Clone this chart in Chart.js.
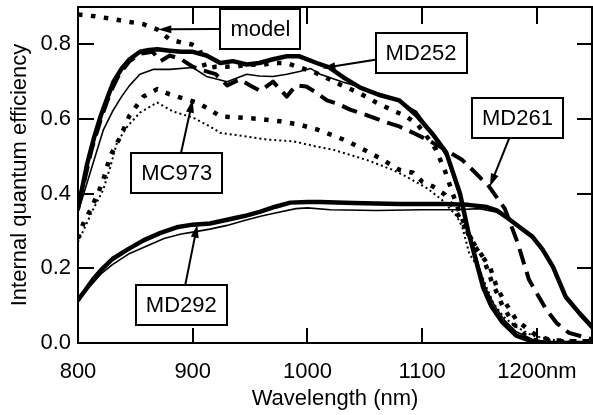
<!DOCTYPE html>
<html>
<head>
<meta charset="utf-8">
<script src="https://cdn.jsdelivr.net/npm/chart.js@4.4.0/dist/chart.umd.min.js"></script>
<style>
  html, body { margin: 0; padding: 0; background: #fff; }
  #wrap { width: 593px; height: 415px; }
</style>
</head>
<body>
<div id="wrap"><canvas id="iqe" width="593" height="415"></canvas></div>
<script>
'use strict';

// --- axis ticks ---
const xTicks = [800, 900, 1000, 1100, 1200];
const xTickLabels = ['800', '900', '1000', '1100', '1200nm'];
const yTicks = [0, 0.2, 0.4, 0.6, 0.8];
const yTickLabels = ['0.0', '0.2', '0.4', '0.6', '0.8'];

// --- model (square dots) ---
const modelWl  = [800, 815, 830, 845, 857, 869, 880, 890, 899, 906, 911, 920, 930, 940, 950, 960, 970, 982, 993, 1004, 1014, 1030, 1045, 1060, 1073, 1086, 1096, 1106, 1112, 1120, 1130, 1141, 1153, 1160, 1170, 1180, 1190, 1200, 1220, 1248];
const modelIqe = [0.88, 0.875, 0.868, 0.86, 0.854, 0.84, 0.813, 0.805, 0.80, 0.787, 0.735, 0.74, 0.74, 0.742, 0.745, 0.745, 0.75, 0.75, 0.738, 0.728, 0.714, 0.69, 0.67, 0.644, 0.625, 0.607, 0.585, 0.545, 0.518, 0.46, 0.37, 0.285, 0.23, 0.17, 0.10, 0.05, 0.02, 0.005, 0.005, 0.005];

// --- MD252 (thick + thin solid) ---
const md252aWl  = [800, 804, 808, 814, 820, 826, 831, 838, 845, 854, 862, 869, 880, 890, 900, 912, 924, 935, 947, 958, 970, 982, 993, 1008, 1019, 1032, 1046, 1062, 1080, 1095, 1109, 1121, 1133, 1140, 1147, 1153, 1160, 1170, 1182, 1196, 1210, 1248];
const md252aIqe = [0.36, 0.42, 0.48, 0.55, 0.61, 0.66, 0.70, 0.735, 0.76, 0.78, 0.785, 0.787, 0.783, 0.78, 0.78, 0.77, 0.75, 0.755, 0.746, 0.75, 0.76, 0.768, 0.768, 0.75, 0.738, 0.71, 0.684, 0.665, 0.65, 0.61, 0.56, 0.51, 0.40, 0.30, 0.22, 0.15, 0.10, 0.055, 0.02, 0.004, 0, 0];
const md252bWl  = [800, 808, 815, 822, 830, 838, 845, 854, 866, 880, 900, 912, 930, 947, 958, 970, 982, 993, 1003, 1011, 1030, 1052, 1075, 1095, 1109, 1121, 1133, 1140, 1147, 1155, 1163, 1172, 1182, 1196, 1215, 1248];
const md252bIqe = [0.35, 0.43, 0.50, 0.57, 0.62, 0.66, 0.69, 0.72, 0.733, 0.733, 0.738, 0.714, 0.70, 0.72, 0.715, 0.714, 0.72, 0.727, 0.735, 0.72, 0.70, 0.68, 0.655, 0.62, 0.56, 0.50, 0.39, 0.30, 0.23, 0.15, 0.10, 0.06, 0.03, 0.01, 0, 0];

// --- MD261 (thick dashes) ---
const md261Wl  = [800, 806, 812, 820, 828, 836, 845, 855, 865, 872, 880, 890, 900, 909, 920, 930, 941, 950, 959, 970, 982, 990, 999, 1008, 1017, 1027, 1037, 1052, 1066, 1080, 1092, 1104, 1116, 1127, 1135, 1145, 1158, 1165, 1172, 1183, 1193, 1208, 1217, 1228, 1248];
const md261Iqe = [0.37, 0.44, 0.52, 0.60, 0.67, 0.72, 0.755, 0.775, 0.78, 0.755, 0.77, 0.76, 0.74, 0.73, 0.72, 0.69, 0.706, 0.69, 0.675, 0.70, 0.66, 0.69, 0.687, 0.67, 0.65, 0.64, 0.625, 0.61, 0.594, 0.58, 0.563, 0.545, 0.525, 0.505, 0.49, 0.46, 0.42, 0.39, 0.36, 0.27, 0.17, 0.09, 0.054, 0.027, 0.01];

// --- MC973 (square dots + thin dots) ---
const mc973aWl  = [800, 802, 806, 811, 818, 822, 828, 837, 845, 857, 869, 880, 895, 904, 915, 924, 941, 959, 976, 993, 1008, 1025, 1037, 1054, 1066, 1080, 1092, 1100, 1109, 1120, 1130, 1141, 1146, 1159, 1165, 1171, 1182, 1196, 1211, 1230, 1248];
const mc973aIqe = [0.28, 0.30, 0.33, 0.357, 0.405, 0.437, 0.50, 0.553, 0.61, 0.66, 0.68, 0.666, 0.652, 0.644, 0.625, 0.607, 0.604, 0.60, 0.594, 0.585, 0.572, 0.553, 0.537, 0.51, 0.49, 0.464, 0.456, 0.432, 0.42, 0.397, 0.35, 0.29, 0.258, 0.204, 0.15, 0.115, 0.062, 0.027, 0.008, 0.005, 0.005];
const mc973bWl  = [800, 806, 813, 822, 828, 834, 843, 854, 869, 883, 900, 915, 924, 947, 965, 988, 1008, 1022, 1052, 1074, 1086, 1104, 1117, 1130, 1135, 1141, 1150, 1156, 1162, 1171, 1182, 1196, 1220, 1248];
const mc973bIqe = [0.27, 0.31, 0.357, 0.41, 0.47, 0.537, 0.58, 0.617, 0.644, 0.62, 0.604, 0.58, 0.563, 0.553, 0.545, 0.54, 0.526, 0.518, 0.49, 0.464, 0.446, 0.415, 0.384, 0.34, 0.31, 0.24, 0.196, 0.15, 0.107, 0.07, 0.043, 0.02, 0.005, 0];

// --- MD292 (thick + thin solid) ---
const md292aWl  = [800, 806, 813, 820, 830, 843, 857, 872, 886, 900, 915, 930, 945, 959, 972, 985, 1000, 1011, 1040, 1080, 1120, 1140, 1155, 1165, 1173, 1185, 1196, 1205, 1214, 1225, 1237, 1248];
const md292aIqe = [0.115, 0.14, 0.17, 0.195, 0.225, 0.25, 0.275, 0.295, 0.31, 0.317, 0.32, 0.33, 0.34, 0.352, 0.365, 0.376, 0.378, 0.378, 0.375, 0.372, 0.372, 0.37, 0.365, 0.355, 0.338, 0.31, 0.285, 0.25, 0.204, 0.124, 0.08, 0.043];
const md292bWl  = [800, 810, 820, 830, 845, 860, 875, 890, 900, 915, 930, 945, 960, 975, 990, 1000, 1020, 1060, 1100, 1130, 1150, 1165, 1175];
const md292bIqe = [0.115, 0.15, 0.185, 0.21, 0.24, 0.26, 0.28, 0.292, 0.297, 0.305, 0.315, 0.328, 0.34, 0.35, 0.36, 0.362, 0.357, 0.355, 0.357, 0.357, 0.36, 0.35, 0.335];

const FONT = "'Liberation Sans', Arial, Helvetica, sans-serif";

function pts(xs, ys) {
  return xs.map((x, i) => ({ x: x, y: ys[i] }));
}

function series(label, xs, ys, width, dash) {
  return {
    label: label,
    data: pts(xs, ys),
    borderColor: '#000',
    borderWidth: width,
    borderDash: dash || [],
    borderCapStyle: dash ? 'butt' : 'round',
    borderJoinStyle: 'round',
    pointRadius: 0,
    fill: false,
    tension: 0
  };
}

// --- boxed labels with arrows (data coordinates) ---
const callouts = [
  { text: 'model', x: 959, y: 0.842, tipX: 870, tipY: 0.840 },
  { text: 'MD252', x: 1099, y: 0.778, tipX: 1013, tipY: 0.736 },
  { text: 'MD261', x: 1183, y: 0.604, tipX: 1159, tipY: 0.419 },
  { text: 'MC973', x: 886, y: 0.456, tipX: 900, tipY: 0.652 },
  { text: 'MD292', x: 890, y: 0.102, tipX: 904, tipY: 0.317 }
];

const framePlugin = {
  id: 'frame',
  afterDatasetsDraw(chart) {
    const { ctx, chartArea: a, scales: { x, y } } = chart;
    ctx.save();
    ctx.strokeStyle = '#000';
    ctx.lineWidth = 2;
    ctx.strokeRect(a.left, a.top, a.right - a.left, a.bottom - a.top);
    ctx.beginPath();
    xTicks.forEach(v => {
      const px = Math.round(x.getPixelForValue(v));
      if (px <= a.left + 1) return;
      ctx.moveTo(px, a.bottom); ctx.lineTo(px, a.bottom - 15);
      ctx.moveTo(px, a.top); ctx.lineTo(px, a.top + 17);
    });
    yTicks.forEach(v => {
      const py = Math.round(y.getPixelForValue(v));
      if (py >= a.bottom - 1) return;
      ctx.moveTo(a.left, py); ctx.lineTo(a.left + 16, py);
      ctx.moveTo(a.right, py); ctx.lineTo(a.right - 15, py);
    });
    ctx.stroke();
    ctx.restore();
  },
  afterDraw(chart) {
    const { ctx, scales: { x, y } } = chart;
    ctx.save();
    ctx.font = '22px ' + FONT;
    ctx.textAlign = 'center';
    ctx.textBaseline = 'middle';
    callouts.forEach(c => {
      const cx = x.getPixelForValue(c.x), cy = y.getPixelForValue(c.y);
      const tx = x.getPixelForValue(c.tipX), ty = y.getPixelForValue(c.tipY);
      const ang = Math.atan2(ty - cy, tx - cx);
      const head = 13, half = 4;
      // shaft
      ctx.strokeStyle = '#000';
      ctx.lineWidth = 2;
      ctx.beginPath();
      ctx.moveTo(cx, cy);
      ctx.lineTo(tx - Math.cos(ang) * head * 0.8, ty - Math.sin(ang) * head * 0.8);
      ctx.stroke();
      // head
      ctx.fillStyle = '#000';
      ctx.beginPath();
      ctx.moveTo(tx, ty);
      ctx.lineTo(tx - Math.cos(ang) * head - Math.sin(ang) * half, ty - Math.sin(ang) * head + Math.cos(ang) * half);
      ctx.lineTo(tx - Math.cos(ang) * head + Math.sin(ang) * half, ty - Math.sin(ang) * head - Math.cos(ang) * half);
      ctx.closePath();
      ctx.fill();
      // box
      const w = Math.round(ctx.measureText(c.text).width + 20), h = 40;
      const bx = Math.round(cx - w / 2), by = Math.round(cy - h / 2);
      ctx.fillStyle = '#fff';
      ctx.fillRect(bx, by, w, h);
      ctx.strokeRect(bx, by, w, h);
      ctx.fillStyle = '#000';
      ctx.fillText(c.text, cx, cy + 1);
    });
    ctx.restore();
  }
};

Chart.defaults.font.family = FONT;
Chart.defaults.font.size = 22;
Chart.defaults.color = '#000';

new Chart(document.getElementById('iqe').getContext('2d'), {
  type: 'line',
  data: {
    datasets: [
      series('MD292 thin', md292bWl, md292bIqe, 1.6),
      series('MD292', md292aWl, md292aIqe, 4.5),
      series('MC973 thin', mc973bWl, mc973bIqe, 2, [2, 3]),
      series('MC973', mc973aWl, mc973aIqe, 4.5, [4.5, 8.5]),
      series('MD261', md261Wl, md261Iqe, 4, [16, 8]),
      series('MD252 thin', md252bWl, md252bIqe, 1.6),
      series('MD252', md252aWl, md252aIqe, 4.5),
      series('model', modelWl, modelIqe, 4.5, [4.5, 8.5])
    ]
  },
  options: {
    responsive: false,
    devicePixelRatio: 1,
    animation: false,
    layout: { padding: { top: 7, right: 1, left: 0, bottom: 0 } },
    plugins: { legend: { display: false }, tooltip: { enabled: false } },
    scales: {
      x: {
        type: 'linear', min: 800, max: 1248,
        grid: { display: false, drawTicks: false },
        border: { display: false },
        afterBuildTicks: s => { s.ticks = xTicks.map(v => ({ value: v })); },
        afterFit: s => { s.height = 72; },
        ticks: { padding: 16, maxRotation: 0, autoSkip: false, callback: (v, i) => xTickLabels[i] },
        title: { display: true, text: 'Wavelength (nm)', padding: { top: 0, bottom: 3 } }
      },
      y: {
        type: 'linear', min: 0, max: 0.9,
        grid: { display: false, drawTicks: false },
        border: { display: false },
        afterBuildTicks: s => { s.ticks = yTicks.map(v => ({ value: v })); },
        afterFit: s => { s.width = 78; s.paddingTop = 0; s.paddingBottom = 0; },
        ticks: { padding: 7, callback: (v, i) => yTickLabels[i] },
        title: { display: true, text: 'Internal quantum efficiency', padding: { top: 7, bottom: 0 } }
      }
    }
  },
  plugins: [framePlugin]
});
</script>
</body>
</html>
